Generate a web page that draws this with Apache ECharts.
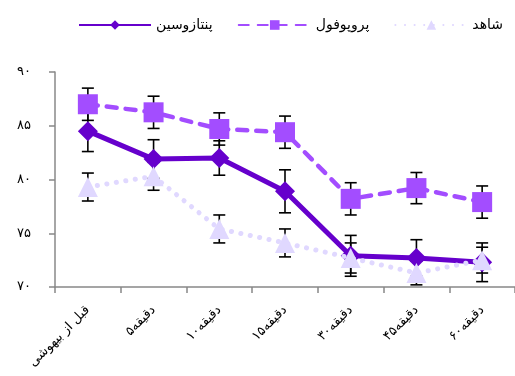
<!DOCTYPE html>
<html><head><meta charset="utf-8">
<script src="https://cdn.jsdelivr.net/npm/echarts@6/dist/echarts.min.js"></script>
<style>html,body{margin:0;padding:0;background:#fff;}#c{width:515px;height:376px;}</style>
</head><body><div id="c"></div>
<script>
var categories = ['قبل از بیهوشی','دقیقه۵','دقیقه۱۰','دقیقه۱۵','دقیقه۳۰','دقیقه۴۵','دقیقه۶۰'];
var seriesNames = ['پنتازوسین','پروپوفول','شاهد'];
var pentazocineMean = [84.5, 81.9, 82.0, 78.9, 72.9, 72.7, 72.3];
var pentazocineErr  = [1.9, 1.8, 1.6, 2.0, 1.9, 1.7, 1.8];
var propofolMean = [87.0, 86.25, 84.7, 84.4, 78.2, 79.2, 77.9];
var propofolErr  = [1.5, 1.5, 1.5, 1.5, 1.5, 1.45, 1.5];
var controlMean = [79.3, 80.3, 75.4, 74.1, 72.7, 71.3, 72.5];
var controlErr  = [1.3, 1.3, 1.3, 1.3, 1.4, 1.1, 1.2];
var yTicks = {min: 70, max: 90, interval: 5};

var faDigits = '۰۱۲۳۴۵۶۷۸۹';
function toFa(n){ return String(n).replace(/[0-9]/g, function(d){ return faDigits[+d]; }); }

function errData(mean, err){
  return mean.map(function(m, i){ return [i, m + err[i], m - err[i]]; });
}
function errRender(params, api){
  var x = api.value(0);
  var pHi = api.coord([x, api.value(1)]);
  var pLo = api.coord([x, api.value(2)]);
  var w = 6;
  var st = {stroke:'#000', lineWidth:1.6};
  return {type:'group', children:[
    {type:'line', shape:{x1:pHi[0], y1:pHi[1], x2:pLo[0], y2:pLo[1]}, style:st},
    {type:'line', shape:{x1:pHi[0]-w, y1:pHi[1], x2:pHi[0]+w, y2:pHi[1]}, style:st},
    {type:'line', shape:{x1:pLo[0]-w, y1:pLo[1], x2:pLo[0]+w, y2:pLo[1]}, style:st}
  ]};
}

var colors = ['#6600CC', '#A34DFF', '#E0D8FF'];
var font = 'DejaVu Sans';
var chart = echarts.init(document.getElementById('c'), null, {renderer:'canvas'});
chart.setOption({
  animation:false,
  textStyle:{fontFamily:font},
  legend:{
    data: seriesNames, left: 73, top: 13, itemWidth: 72, itemHeight: 12, itemGap: 25,
    textStyle:{fontFamily:font, fontSize:14, color:'#000'}
  },
  grid:{left:55, top:72, width:469, bottom:89, containLabel:false},
  xAxis:{
    type:'category', data:categories, boundaryGap:true,
    axisLine:{lineStyle:{color:'#888', width:1.5}},
    axisTick:{show:true, length:6, lineStyle:{color:'#888', width:1.5}},
    axisLabel:{rotate:45, margin:21, fontSize:13, color:'#000', fontFamily:font, interval:0}
  },
  yAxis:{
    type:'value', min:yTicks.min, max:yTicks.max, interval:yTicks.interval,
    splitLine:{show:false},
    axisLine:{show:true, lineStyle:{color:'#888', width:1.5}},
    axisTick:{show:true, length:6, lineStyle:{color:'#888', width:1.5}},
    axisLabel:{margin:24, fontSize:13, color:'#000', fontFamily:font, formatter:function(v){ return toFa(v); }}
  },
  series:[
    {type:'custom', name:'e1', renderItem:errRender, data:errData(pentazocineMean, pentazocineErr), z:1, silent:true},
    {type:'custom', name:'e2', renderItem:errRender, data:errData(propofolMean, propofolErr), z:1, silent:true},
    {type:'custom', name:'e3', renderItem:errRender, data:errData(controlMean, controlErr), z:1, silent:true},
    {type:'line', name:seriesNames[0], data:pentazocineMean, z:2,
      symbol:'diamond', symbolSize:20, showAllSymbol:true,
      itemStyle:{color:colors[0]}, lineStyle:{color:colors[0], width:5}},
    {type:'line', name:seriesNames[1], data:propofolMean, z:3,
      symbol:'rect', symbolSize:20, showAllSymbol:true,
      itemStyle:{color:colors[1]}, lineStyle:{color:colors[1], width:4.5, type:[10,9], cap:'round'}},
    {type:'line', name:seriesNames[2], data:controlMean, z:4,
      symbol:'triangle', symbolSize:20, showAllSymbol:true,
      itemStyle:{color:colors[2]}, lineStyle:{color:colors[2], width:5, type:[0.1,9.5], cap:'round'}}
  ]
});
</script></body></html>
